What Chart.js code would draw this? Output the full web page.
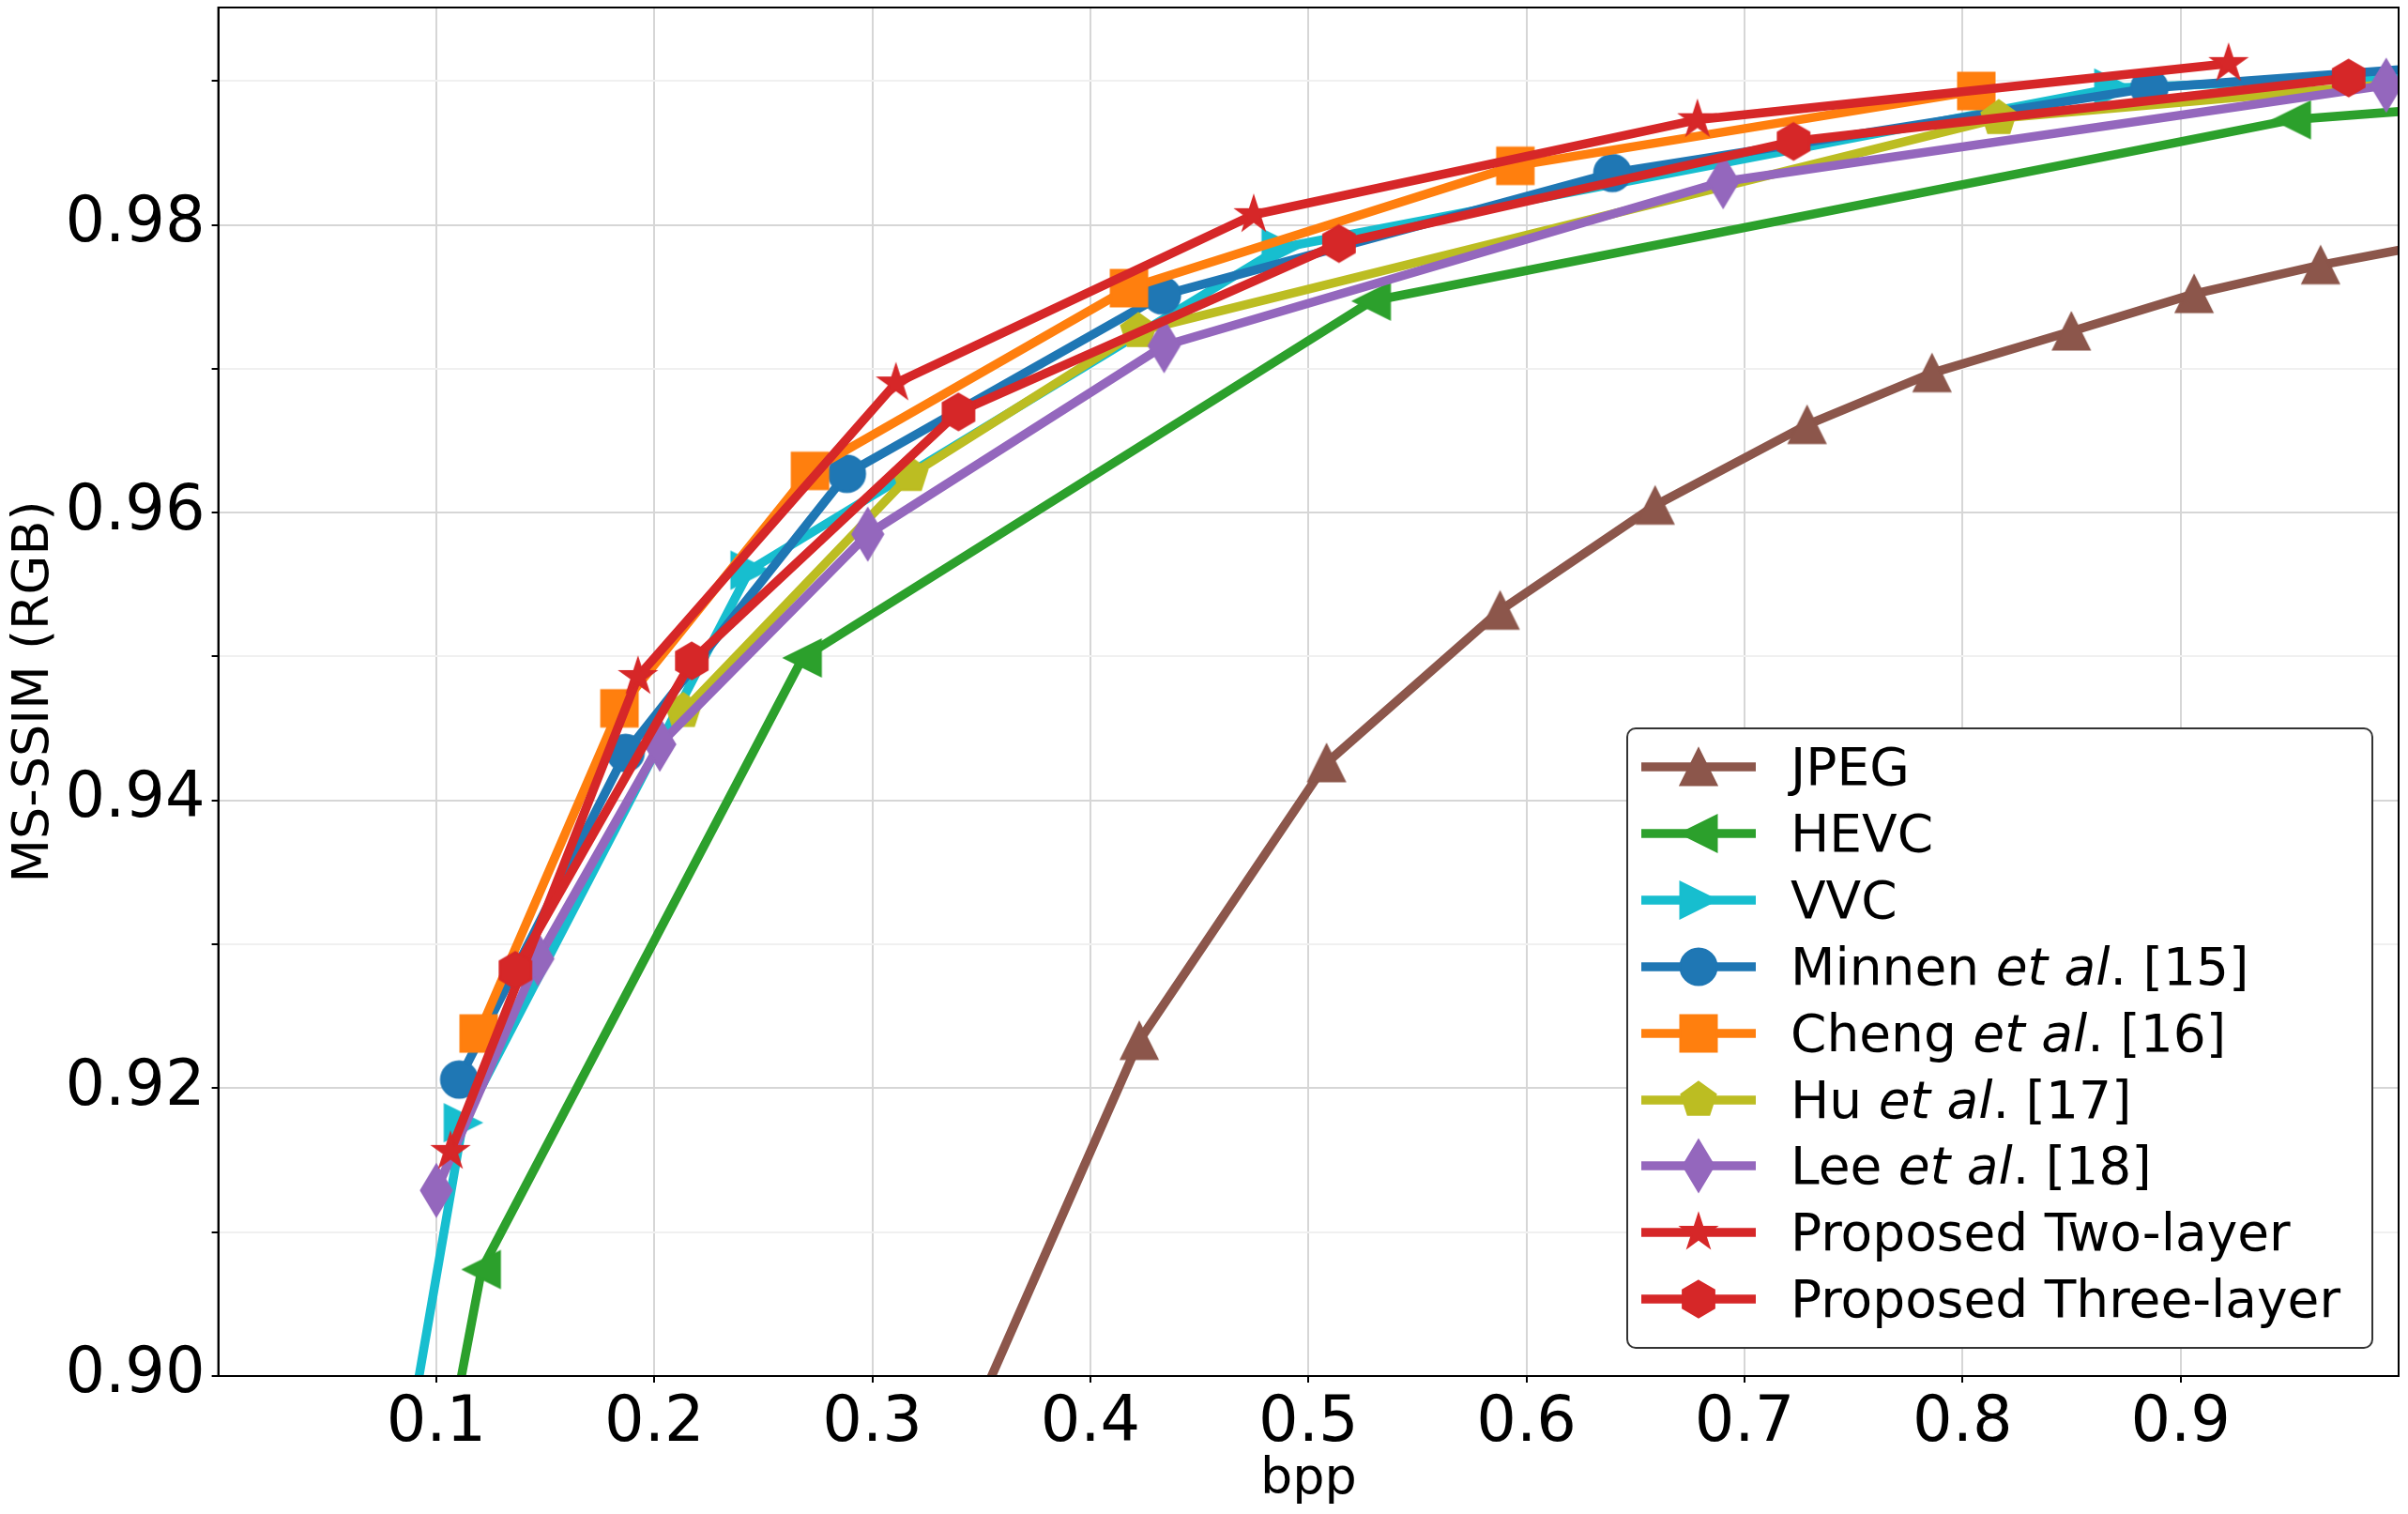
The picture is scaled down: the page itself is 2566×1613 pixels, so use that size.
<!DOCTYPE html>
<html>
<head>
<meta charset="utf-8">
<script src="https://cdn.jsdelivr.net/npm/chart.js@4.4.1/dist/chart.umd.min.js"></script>
<style>
html, body { margin: 0; padding: 0; background: #fff; }
#wrap { position: relative; width: 2566px; height: 1613px; }
#legend {
  position: absolute; left: 1733px; top: 775px; width: 796px; height: 662px;
  box-sizing: border-box; border: 2px solid #333; border-radius: 10px; background: #fff;
  font-family: 'DejaVu Sans'; font-size: 55px; color: #000;
}
.row { position: absolute; left: 0; height: 70px; display: flex; align-items: center; white-space: nowrap; }
.row canvas { margin-left: 14px; }
.row span { margin-left: 37px; line-height: 70px; }
</style>
</head>
<body>
<div id="wrap">
  <canvas id="rd" width="2566" height="1613"></canvas>
  <div id="legend"></div>
</div>
<script>
// rate-distortion points (bpp, MS-SSIM)
const jpegBpp = [0.33, 0.4224, 0.5083, 0.5879, 0.659, 0.7287, 0.786, 0.8499, 0.9062, 0.9642, 1.02];
const jpegSsim = [0.8915, 0.9233, 0.9426, 0.9532, 0.9605, 0.9661, 0.9697, 0.9726, 0.9752, 0.9772, 0.9788];
const hevcBpp = [0.10, 0.1208, 0.268, 0.529, 0.951, 1.02];
const hevcSsim = [0.8908, 0.9074, 0.9499, 0.9747, 0.9873, 0.9881];
const vvcBpp = [0.08, 0.1122, 0.2437, 0.4873, 0.8692, 1.02];
const vvcSsim = [0.8894, 0.9176, 0.956, 0.9784, 0.9895, 0.9904];
const minnenBpp = [0.1105, 0.1868, 0.2883, 0.4328, 0.6394, 0.8857, 1.02];
const minnenSsim = [0.9206, 0.9433, 0.9627, 0.9751, 0.9836, 0.9895, 0.991];
const chengBpp = [0.1194, 0.184, 0.2714, 0.4177, 0.5949, 0.8063];
const chengSsim = [0.9238, 0.9464, 0.9629, 0.9756, 0.9841, 0.9893];
const huBpp = [0.2133, 0.3173, 0.422, 0.8166, 1.02];
const huSsim = [0.9462, 0.9626, 0.9726, 0.9874, 0.9901];
const leeBpp = [0.1, 0.1466, 0.2025, 0.2979, 0.4338, 0.6902, 0.9943];
const leeSsim = [0.9129, 0.929, 0.9439, 0.9585, 0.9716, 0.983, 0.9897];
const twoBpp = [0.1065, 0.1925, 0.3108, 0.4749, 0.6784, 0.922];
const twoSsim = [0.9156, 0.9486, 0.969, 0.9807, 0.9873, 0.9912];
const threeBpp = [0.1363, 0.2172, 0.3395, 0.514, 0.7225, 0.9771];
const threeSsim = [0.9282, 0.9497, 0.967, 0.9787, 0.9858, 0.9902];

const xTicks = [0.1, 0.2, 0.3, 0.4, 0.5, 0.6, 0.7, 0.8, 0.9];
const yTicks = [0.90, 0.91, 0.92, 0.93, 0.94, 0.95, 0.96, 0.97, 0.98, 0.99];
const yLabels = ['0.90', '0.92', '0.94', '0.96', '0.98'];

const names = ['JPEG', 'HEVC', 'VVC', 'Minnen et al. [15]', 'Cheng et al. [16]', 'Hu et al. [17]',
  'Lee et al. [18]', 'Proposed Two-layer', 'Proposed Three-layer'];
const legendHtml = ['JPEG', 'HEVC', 'VVC', 'Minnen <i>et al</i>. [15]', 'Cheng <i>et al</i>. [16]',
  'Hu <i>et al</i>. [17]', 'Lee <i>et al</i>. [18]', 'Proposed Two-layer', 'Proposed Three-layer'];
const xs = [jpegBpp, hevcBpp, vvcBpp, minnenBpp, chengBpp, huBpp, leeBpp, twoBpp, threeBpp];
const ys = [jpegSsim, hevcSsim, vvcSsim, minnenSsim, chengSsim, huSsim, leeSsim, twoSsim, threeSsim];
const colors = ['#8c564b', '#2ca02c', '#17becf', '#1f77b4', '#ff7f0e', '#bcbd22', '#9467bd', '#d62728', '#d62728'];
const shapes = ['^', '<', '>', 'o', 's', 'p', 'd', '*', 'h'];

const LW = 9.5;
const R = 19.5;

function polygon(c, n, r, inner) {
  const steps = inner ? n * 2 : n;
  for (let k = 0; k < steps; k++) {
    const a = -Math.PI / 2 + k * 2 * Math.PI / steps;
    const rr = (inner && k % 2) ? r * inner : r;
    const px = Math.cos(a) * rr, py = Math.sin(a) * rr;
    if (k == 0) c.moveTo(px, py); else c.lineTo(px, py);
  }
}

function drawMarker(c, shape, color, cx, cy) {
  c.save();
  c.translate(cx, cy);
  c.beginPath();
  if (shape == 'o') c.arc(0, 0, R, 0, Math.PI * 2);
  else if (shape == 's') c.rect(-R, -R, 2 * R, 2 * R);
  else if (shape == '^') { c.moveTo(0, -R); c.lineTo(-R, R); c.lineTo(R, R); }
  else if (shape == '<') { c.moveTo(-R, 0); c.lineTo(R, -R); c.lineTo(R, R); }
  else if (shape == '>') { c.moveTo(R, 0); c.lineTo(-R, -R); c.lineTo(-R, R); }
  else if (shape == '*') polygon(c, 5, R, 0.381966);
  else if (shape == 'h') polygon(c, 6, R);
  else if (shape == 'p') polygon(c, 5, R);
  else if (shape == 'd') {
    const h = R * Math.SQRT2, w = h * 0.6;
    c.moveTo(0, -h); c.lineTo(w, 0); c.lineTo(0, h); c.lineTo(-w, 0);
  }
  c.closePath();
  c.fillStyle = color;
  c.strokeStyle = color;
  c.lineWidth = 2;
  c.lineJoin = 'miter';
  c.fill();
  c.stroke();
  c.restore();
}

function markerCanvas(shape, color) {
  const cv = document.createElement('canvas');
  cv.width = 70; cv.height = 70;
  drawMarker(cv.getContext('2d'), shape, color, 35, 35);
  return cv;
}

const datasets = names.map(function (name, i) {
  return {
    label: name,
    data: xs[i].map((x, j) => ({x: x, y: ys[i][j]})),
    borderColor: colors[i],
    backgroundColor: colors[i],
    borderWidth: LW,
    borderJoinStyle: 'round',
    borderCapStyle: 'square',
    pointStyle: markerCanvas(shapes[i], colors[i]),
    pointRadius: 20,
    pointHoverRadius: 20,
    tension: 0,
    fill: false,
    clip: 0,
    order: names.length - i
  };
});

const frame = {
  id: 'frame',
  afterDatasetsDraw(chart) {
    const a = chart.chartArea, c = chart.ctx;
    c.save();
    c.strokeStyle = '#000';
    c.lineWidth = 2;
    c.strokeRect(a.left, a.top, a.right - a.left, a.bottom - a.top);
    c.restore();
  }
};

new Chart(document.getElementById('rd'), {
  type: 'line',
  data: {datasets: datasets},
  options: {
    responsive: false,
    animation: false,
    devicePixelRatio: 1,
    layout: {autoPadding: false, padding: {top: 8, right: 10, left: 0, bottom: 0}},
    plugins: {legend: {display: false}, tooltip: {enabled: false}},
    scales: {
      x: {
        type: 'linear', min: 0, max: 1.0,
        afterBuildTicks: s => { s.ticks = xTicks.map(v => ({value: v})); },
        afterFit: s => { s.height = 147; s.paddingLeft = 0; s.paddingRight = 0; },
        ticks: {
          autoSkip: false, maxRotation: 0, padding: 4, color: '#000',
          font: {family: 'DejaVu Sans', size: 67},
          callback: v => v.toFixed(1)
        },
        grid: {color: '#d6d6d6', lineWidth: 2, tickColor: '#000', tickLength: 7, tickWidth: 2},
        border: {display: true, color: '#000', width: 2},
        title: {display: true, text: 'bpp', color: '#000', font: {family: 'DejaVu Sans', size: 54}, padding: {top: 0, bottom: 4}}
      },
      y: {
        type: 'linear', min: 0.90, max: 0.9951,
        afterBuildTicks: s => { s.ticks = yTicks.map(v => ({value: v})); },
        afterFit: s => { s.width = 232.6; s.paddingTop = 0; s.paddingBottom = 0; },
        ticks: {
          autoSkip: false, padding: 7, color: '#000',
          font: {family: 'DejaVu Sans', size: 67},
          callback: v => yLabels.includes(v.toFixed(2)) ? v.toFixed(2) : ''
        },
        grid: {
          color: c => yLabels.includes(c.tick.value.toFixed(2)) ? '#d6d6d6' : '#f0f0f0',
          lineWidth: 2, tickColor: '#000', tickLength: 7, tickWidth: 2
        },
        border: {display: true, color: '#000', width: 2},
        title: {display: true, text: 'MS-SSIM (RGB)', color: '#000', font: {family: 'DejaVu Sans', size: 54}, padding: {top: 5, bottom: 0}}
      }
    }
  },
  plugins: [frame]
});

// legend: line + marker handle, then the label
const legend = document.getElementById('legend');
names.forEach(function (name, i) {
  const row = document.createElement('div');
  row.className = 'row';
  row.style.top = (5 + 70.9 * i) + 'px';
  const cv = document.createElement('canvas');
  cv.width = 122; cv.height = 70;
  const c = cv.getContext('2d');
  c.strokeStyle = colors[i];
  c.lineWidth = LW;
  c.beginPath(); c.moveTo(0, 35); c.lineTo(122, 35); c.stroke();
  drawMarker(c, shapes[i], colors[i], 61, 35);
  const sp = document.createElement('span');
  sp.innerHTML = legendHtml[i];
  row.appendChild(cv);
  row.appendChild(sp);
  legend.appendChild(row);
});
</script>
</body>
</html>
